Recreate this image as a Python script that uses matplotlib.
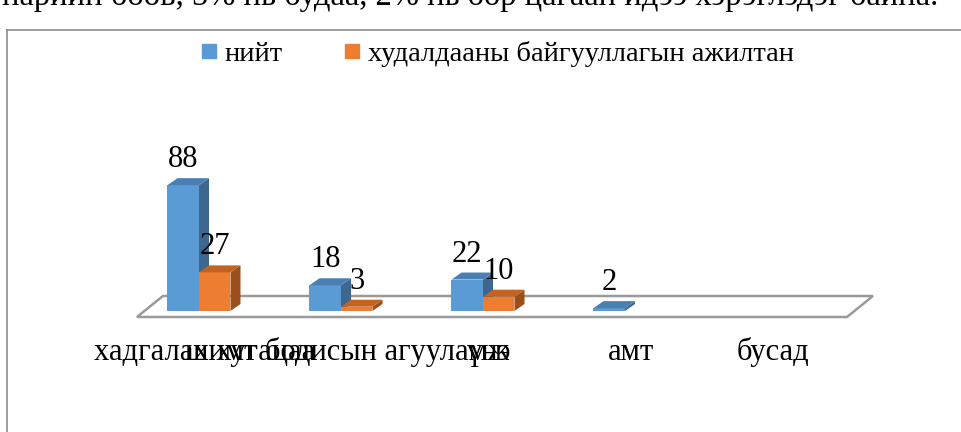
import numpy as np
import matplotlib.pyplot as plt
from matplotlib.patches import Polygon, Rectangle
from matplotlib.lines import Line2D

plt.rcParams['font.family'] = ['Liberation Serif', 'DejaVu Serif']

# data
categories = ['хадгалах хугацаа', 'шимт бодисын агууламж', 'үнэ', 'амт', 'бусад']
total = [88, 18, 22, 2, np.nan]
trade_staff = [27, 3, 10, np.nan, np.nan]
series_names = ['нийт', 'худалдааны байгууллагын ажилтан']
intro_text = 'нарийн боов, 5% нь будаа, 2% нь өөр цагаан идээ хэрэглэдэг байна.'

blue = ['#5b9bd5', '#4a7fb3', '#3e6790']
orange = ['#ed7d31', '#c4621f', '#9c4f1a']

W, H = 961, 432
fig = plt.figure(figsize=(W / 100, H / 100), dpi=100)
ax = fig.add_axes([0, 0, 1, 1])
px_x, x0 = 142.0, 199.0      # pixels per category, pixel of first category centre
px_y, y0 = 1.43, 311.0       # pixels per unit, pixel of zero
ax.set_xlim(-x0 / px_x, (W - x0) / px_x)
ax.set_ylim((y0 - H) / px_y, y0 / px_y)
ax.axis('off')

bw = 31.5 / px_x        # bar width
dx = 10 / px_x          # 3d depth
dy = 7 / px_y
fs = 22

# floor
n = len(categories)
fl, fr = -0.437, n - 0.437
back_dx, back_dy = 26 / px_x, 21 / px_y
front_y = -6 / px_y
floor = Polygon([(fl, front_y), (fr, front_y), (fr + back_dx, front_y + back_dy),
                 (fl + back_dx, front_y + back_dy)], closed=True,
                facecolor='white', edgecolor='#9a9a9a', lw=1.8, zorder=1)
ax.add_patch(floor)


def bar3d(x, h, cols):
    front = Rectangle((x, 0), bw, h, facecolor=cols[0], edgecolor='none', zorder=3)
    top = Polygon([(x, h), (x + bw, h), (x + bw + dx, h + dy), (x + dx, h + dy)],
                  facecolor=cols[1], edgecolor='none', zorder=3)
    side = Polygon([(x + bw, 0), (x + bw + dx, dy), (x + bw + dx, h + dy), (x + bw, h)],
                   facecolor=cols[2], edgecolor='none', zorder=2)
    for p in (side, front, top):
        ax.add_patch(p)


for i in range(n):
    for vals, cols, off in ((total, blue, -bw), (trade_staff, orange, 0)):
        v = vals[i]
        if np.isnan(v):
            continue
        bar3d(i + off, v, cols)
        ax.text(i + off + bw / 2, v + dy + 11 / px_y, f'{v:g}', ha='center',
                va='baseline', fontsize=fs, zorder=5)
    ax.text(i + 0.04, -34.3, categories[i], ha='center', va='baseline', fontsize=fs)

# legend
handles = [Line2D([], [], ls='none', marker='s', markersize=10, color=c[0]) for c in (blue, orange)]
fig.legend(handles, series_names, loc='center', bbox_to_anchor=(0.518, 0.874), ncol=2,
           frameon=False, fontsize=20.5, handlelength=0.5, handletextpad=0.3,
           columnspacing=2.2)

# chart border and cut-off paragraph text above it
fig.add_artist(Line2D([7 / W, 7 / W], [0, 1 - 30 / H], color='#8c8c8c', lw=1.2))
fig.add_artist(Line2D([7 / W, 1], [1 - 30 / H, 1 - 30 / H], color='#8c8c8c', lw=1.2))
fig.text(2 / W, 1 - 5 / H, intro_text, fontsize=fs + 1.5, va='baseline', ha='left')

fig.savefig('out.png', dpi=100)
